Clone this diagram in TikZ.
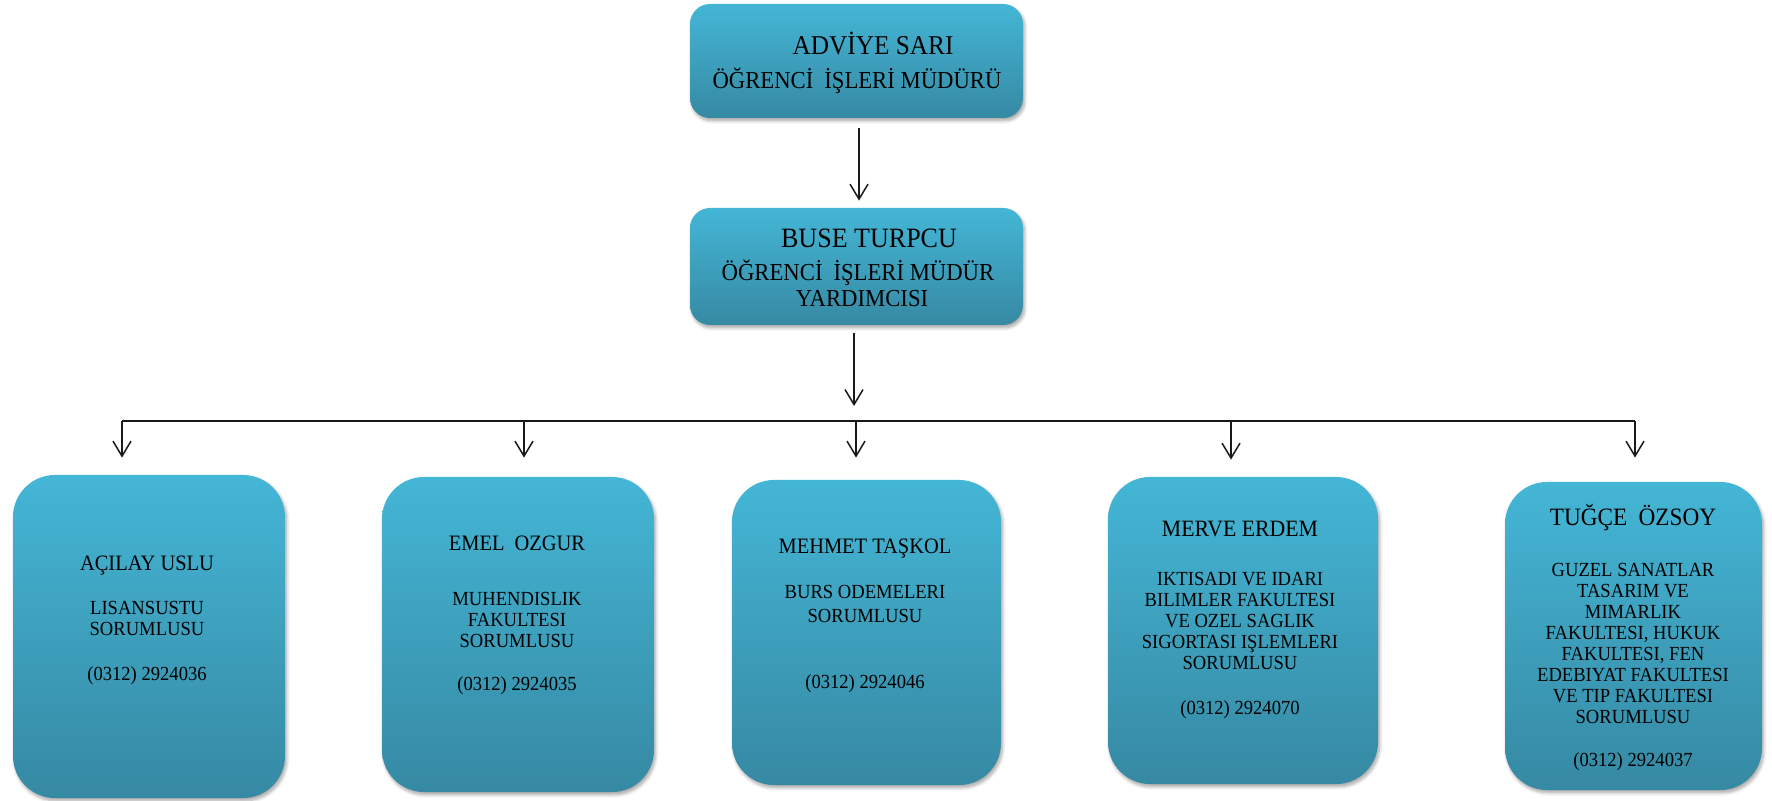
\documentclass[tikz,border=0pt]{standalone}
\usepackage{fontspec}
\setmainfont{Liberation Serif}[FakeStretch=0.93]
\usetikzlibrary{arrows.meta,shadows.blur}
\definecolor{boxtop}{RGB}{68,182,214}
\definecolor{boxbot}{RGB}{54,137,163}
\definecolor{linec}{RGB}{25,25,25}
\tikzset{
  boxbase/.style={rectangle, draw=none, inner sep=0pt, top color=boxtop, bottom color=boxbot,
    blur shadow={shadow xshift=0.8pt, shadow yshift=-1.4pt, shadow opacity=35, shadow blur steps=6, shadow blur radius=1.6pt}},
  topbox/.style={boxbase, rounded corners=10pt, minimum width=166.5pt},
  lowbox/.style={boxbase, rounded corners=21pt},
  txt/.style={align=center, inner sep=0pt, text=black, font=\fontsize{10}{10.5}\selectfont},
  arr/.style={draw=linec, line width=0.75pt, -{Straight Barb[length=7.5pt,width=9pt,line width=0.75pt]}},
  bus/.style={draw=linec, line width=0.75pt}
}
\newcommand{\nm}[1]{{\fontsize{11}{10.5}\selectfont #1}}
\begin{document}
\begin{tikzpicture}[x=0.5pt,y=-0.5pt]
\useasboundingbox (0,0) rectangle (1772,801);
% top boxes
\node[topbox, minimum height=57pt] (A) at (856.5,61) {};
\node[topbox, minimum height=58.5pt] (B) at (856.5,266.5) {};
\node[txt] (tA) at (857,63) {{\fontsize{13.6}{16}\selectfont\hspace*{16pt}ADVİYE SARI}\\[5.5pt]
  {\fontsize{12.2}{10.5}\selectfont ÖĞRENCİ\hspace{0.45em}İŞLERİ MÜDÜRÜ}};
\node[txt] (tB) at (858,268) {{\fontsize{14}{16}\selectfont\hspace*{11pt}BUSE TURPCU}\\[6pt]
  {\fontsize{12.2}{10.5}\selectfont ÖĞRENCİ\hspace{0.45em}İŞLERİ MÜDÜR}\\[1pt]
  {\fontsize{12.2}{10.5}\selectfont\hspace*{4pt}YARDIMCISI}};
% bottom boxes
\node[lowbox, minimum width=136pt, minimum height=161.5pt] (b1) at (149,636.5) {};
\node[lowbox, minimum width=136pt, minimum height=157.5pt] (b2) at (518,634.5) {};
\node[lowbox, minimum width=134.5pt, minimum height=152.5pt] (b3) at (866.5,632.5) {};
\node[lowbox, minimum width=135pt, minimum height=153.5pt] (b4) at (1243,630.5) {};
\node[lowbox, minimum width=128.5pt, minimum height=154pt] (b5) at (1633.5,636) {};
% texts
\node[txt] (t1) at (147,620.5) {\nm{AÇILAY USLU}\\[11.5pt]LISANSUSTU\\SORUMLUSU\\[12pt](0312) 2924036};
\node[txt] (t2) at (517,615.5) {\nm{EMEL\hspace{0.45em}OZGUR}\\[17pt]MUHENDISLIK\\FAKULTESI\\SORUMLUSU\\[11pt](0312) 2924035};
\node[txt] (t3) at (865,615.5) {\nm{MEHMET TAŞKOL}\\[12pt]BURS ODEMELERI\\[1.5pt]SORUMLUSU\\[22.5pt](0312) 2924046};
\node[txt] (t4) at (1240,620) {{\fontsize{11.7}{10.5}\selectfont MERVE ERDEM}\\[14pt]IKTISADI VE IDARI\\BILIMLER FAKULTESI\\VE OZEL SAGLIK\\SIGORTASI IŞLEMLERI\\SORUMLUSU\\[12pt](0312) 2924070};
\node[txt] (t5) at (1633,637.5) {{\fontsize{12.5}{10.5}\selectfont TUĞÇE\hspace{0.45em}ÖZSOY}\\[15pt]GUZEL SANATLAR\\TASARIM VE\\MIMARLIK\\FAKULTESI, HUKUK\\FAKULTESI, FEN\\EDEBIYAT FAKULTESI\\VE TIP FAKULTESI\\SORUMLUSU\\[11pt](0312) 2924037};
% connectors
\draw[arr, shorten <=5pt, shorten >=3.5pt] ([xshift=1.25pt]A.south) -- ([xshift=1.25pt]B.north);
\coordinate (bus) at (854,421);
\draw[arr, shorten <=4pt, shorten >=7.5pt] (B.south -| bus) -- (bus);
\coordinate (j1) at (122,421);
\coordinate (j2) at (524,421);
\coordinate (j3) at (856,421);
\coordinate (j4) at (1231,421);
\coordinate (j5) at (1635,421);
\draw[bus] (j1) -- (j5);
\draw[arr, shorten >=8.5pt] (j1) -- (j1 |- b1.north);
\draw[arr, shorten >=9.5pt] (j2) -- (j2 |- b2.north);
\draw[arr, shorten >=11pt] (j3) -- (j3 |- b3.north);
\draw[arr, shorten >=8.5pt] (j4) -- (j4 |- b4.north);
\draw[arr, shorten >=12pt] (j5) -- (j5 |- b5.north);
\end{tikzpicture}
\end{document}
